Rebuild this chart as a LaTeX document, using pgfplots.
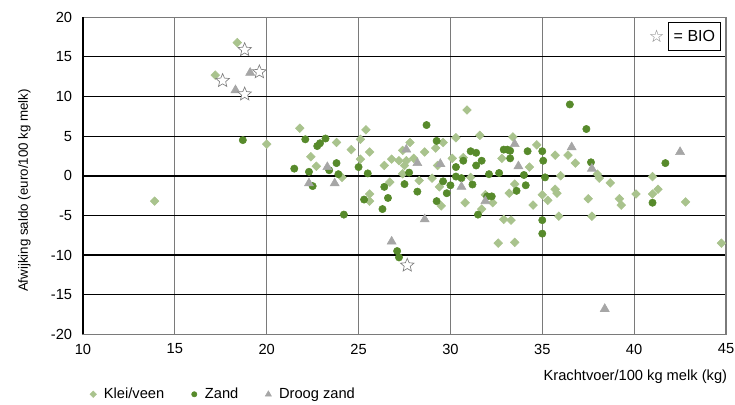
\documentclass[border=0pt]{standalone}
\usepackage{fontspec}
\setmainfont{Liberation Sans}
\newfontfamily\dejavu{DejaVu Sans}
\usepackage{pgfplots}
\pgfplotsset{compat=1.18}
\definecolor{klei}{HTML}{A9C38D}
\definecolor{zand}{HTML}{578A2B}
\definecolor{droog}{HTML}{A6A6A6}
\definecolor{gridgray}{HTML}{7A7A7A}
\definecolor{stargray}{HTML}{808080}
\pgfdeclareplotmark{ostar}{%
  \pgfpathmoveto{\pgfpointpolar{90}{\pgfplotmarksize}}%
  \pgfpathlineto{\pgfpointpolar{126}{0.45\pgfplotmarksize}}%
  \pgfpathlineto{\pgfpointpolar{162}{\pgfplotmarksize}}%
  \pgfpathlineto{\pgfpointpolar{198}{0.45\pgfplotmarksize}}%
  \pgfpathlineto{\pgfpointpolar{234}{\pgfplotmarksize}}%
  \pgfpathlineto{\pgfpointpolar{270}{0.45\pgfplotmarksize}}%
  \pgfpathlineto{\pgfpointpolar{306}{\pgfplotmarksize}}%
  \pgfpathlineto{\pgfpointpolar{342}{0.45\pgfplotmarksize}}%
  \pgfpathlineto{\pgfpointpolar{18}{\pgfplotmarksize}}%
  \pgfpathlineto{\pgfpointpolar{54}{0.45\pgfplotmarksize}}%
  \pgfpathclose
  \pgfusepathqfillstroke}
\pgfplotsset{
  legimg/.style={legend image code/.code={\draw[##1, mark size=#1] plot coordinates {(0pt,0pt)}; \path[draw=none, fill=none] (-2.5pt,0pt) -- (6pt,0pt);}},
}
\begin{document}
\fontsize{11pt}{13pt}\selectfont
\begin{tikzpicture}
\useasboundingbox (-62.25pt,-53pt) rectangle (489pt,250.7pt);
\begin{axis}[
  at={(0pt,0pt)}, anchor=south west,
  scale only axis, width=482.25pt, height=237.75pt,
  xmin=10, xmax=45, ymin=-20, ymax=20,
  xtick={10,15,...,45}, xticklabels={10,15,20,25,30,35,40,45},
  ytick={-20,-15,...,20}, yticklabels={-20,-15,-10,-5,0,5,10,15,20},
  major tick length=0pt,
  xmajorgrids, ymajorgrids,
  x grid style={gridgray, line width=0.8pt},
  y grid style={black, line width=0.8pt},
  axis line style={gridgray, line width=1pt},
  yticklabel style={inner sep=0pt, anchor=east, xshift=-8pt, font=\fontsize{11pt}{13pt}\selectfont},
  xticklabel style={inner sep=0pt, anchor=north, yshift=-7pt, font=\fontsize{11pt}{13pt}\selectfont},
  xlabel={Krachtvoer/100 kg melk (kg)},
  xlabel style={at={(axis description cs:1,0)}, anchor=east, inner sep=0pt, yshift=-32pt, xshift=1pt, font=\fontsize{11pt}{13pt}\selectfont},
  ylabel={Afwijking saldo (euro/100 kg melk)},
  ylabel style={at={(axis description cs:0,0.5)}, anchor=center, inner sep=0pt, yshift=44pt, xshift=-11pt, font=\fontsize{10pt}{12pt}\selectfont},
  legend style={at={(axis description cs:0,0)}, anchor=west, xshift=2pt, yshift=-45pt, draw=none, fill=none, legend columns=3, font=\fontsize{11pt}{13pt}\selectfont,
    /tikz/every even column/.append style={column sep=18pt}},
  legend cell align=left,
  clip=false,
]
\addplot[only marks, mark=square*, mark size=2.3pt, color=klei, mark options={rotate=45, draw=klei, fill=klei}, legimg=1.7pt] coordinates {
(13.9,-3.2) (17.2,12.7) (18.4,16.8) (20.0,4.0) (21.8,6.0) (22.4,2.4) (22.7,1.2)
(23.8,4.2) (24.6,3.3) (24.1,-0.2) (25.4,5.8) (25.1,4.6) (25.6,3.0) (25.1,2.1)
(25.6,-2.3) (25.6,-3.2) (26.8,2.1) (27.2,1.9) (27.6,1.9) (28.0,2.2) (27.8,4.2)
(27.4,3.2) (26.4,1.3) (27.5,1.3) (27.4,0.25) (28.3,-0.6) (26.7,-0.8) (28.6,3.0)
(30.9,8.3) (30.3,4.8) (31.6,5.1) (29.2,3.5) (29.6,4.2) (32.8,2.2) (30.7,2.3)
(30.1,2.2) (29.3,1.3) (29.0,-0.3) (29.4,-1.4) (31.1,-0.2) (31.9,-2.4) (29.5,-3.8)
(30.8,-3.4) (32.3,-3.4) (31.7,-4.2) (32.9,-5.5) (32.6,-8.5) (33.4,4.9) (34.7,3.9)
(35.7,2.6) (36.4,2.6) (36.8,1.6) (34.3,1.1) (36.0,0.0) (33.5,-1.05) (33.2,-2.2)
(35.7,-1.7) (35.8,-2.2) (35.0,-2.4) (35.3,-3.1) (34.5,-3.7) (35.9,-5.1) (33.3,-5.6)
(33.5,-8.4) (38.0,0.2) (38.1,-0.3) (38.7,-0.9) (37.5,-2.9) (37.7,-5.1) (39.2,-2.9)
(39.3,-3.7) (40.1,-2.3) (41.0,-0.1) (41.3,-1.7) (41.0,-2.3) (42.8,-3.3) (44.75,-8.5)
};
\addlegendentry{Klei/veen}
\addplot[only marks, mark=*, mark size=2.75pt, color=zand, mark options={draw=zand, fill=zand}, legimg=2pt] coordinates {
(18.7,4.5) (21.5,0.9) (22.1,4.6) (23.2,4.7) (22.75,3.75) (22.9,4.1) (22.3,0.5)
(23.4,0.7) (23.8,1.6) (23.9,0.2) (22.5,-1.3) (24.2,-4.9) (28.7,6.4) (25.0,1.1)
(25.5,0.3) (27.75,0.4) (26.4,-1.4) (27.5,-1.05) (28.2,-2.0) (25.3,-3.0) (26.6,-2.8)
(26.3,-4.2) (27.1,-9.5) (27.2,-10.3) (29.25,4.4) (31.1,3.1) (31.4,2.9) (32.9,3.3)
(30.7,1.9) (31.7,1.9) (30.3,1.1) (31.4,1.3) (32.1,0.2) (32.65,0.35) (30.3,-0.1)
(30.6,-0.3) (29.6,-0.7) (30.0,-1.2) (31.2,-1.1) (29.8,-2.2) (32.0,-2.6) (32.25,-2.6)
(29.25,-3.2) (31.5,-4.9) (36.5,9.0) (37.4,5.9) (33.1,3.3) (33.25,3.15) (34.2,3.1)
(35.0,3.1) (33.25,2.2) (35.05,1.9) (34.0,0.1) (35.15,-0.2) (34.1,-1.2) (33.6,-1.9)
(35.0,-5.6) (35.0,-7.3) (37.65,1.7) (41.0,-3.4) (41.7,1.6)
};
\addlegendentry{Zand}
\addplot[only marks, mark=triangle*, mark size=3.9pt, color=droog, mark options={draw=droog, fill=droog}, legimg=2.6pt] coordinates {
(19.1,13.0) (18.3,10.8) (23.3,1.1) (22.3,-0.95) (23.7,-0.95) (27.6,3.3) (28.2,1.6)
(29.45,1.5) (30.6,-1.4) (28.6,-5.5) (26.8,-8.3) (31.9,-3.2) (33.5,4.0) (33.7,1.2)
(36.6,3.6) (37.7,0.9) (42.5,3.0) (38.4,-16.8)
};
\addlegendentry{Droog zand}
\addplot[only marks, mark=ostar, mark size=5.3pt, forget plot, mark options={draw=stargray, fill=white, line width=0.5pt}] coordinates {
(18.8,15.9) (19.6,13.1) (17.6,12.0) (18.8,10.3) (27.65,-11.3)
};
\draw[black, line width=1.6pt] (axis cs:10,0) -- (axis cs:45,0);
\draw[black, line width=1.6pt] (rel axis cs:0,0) -- (rel axis cs:0,1);
\node[text=stargray, inner sep=0pt, font=\dejavu\fontsize{13pt}{13pt}\selectfont] at (axis cs:41.23,17.55) {☆};
\node[draw=black, line width=0.6pt, minimum width=39pt, minimum height=20.5pt, inner sep=0pt, font=\fontsize{12pt}{14pt}\selectfont] at (axis cs:43.28,17.58) {= BIO};
\end{axis}
\end{tikzpicture}
\end{document}
